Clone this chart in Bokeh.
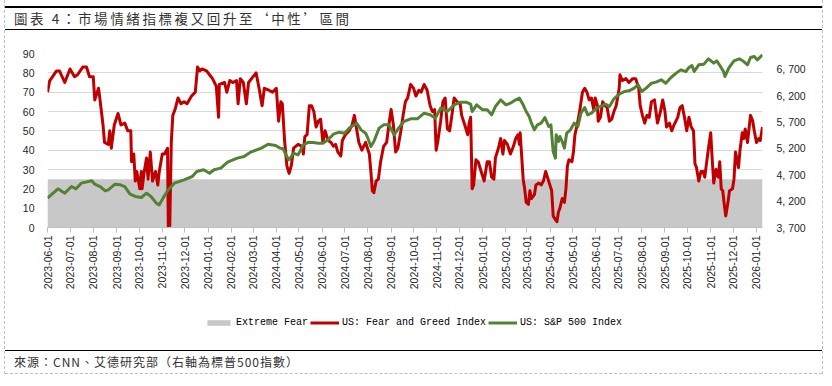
import math
import pandas as pd
from bokeh.plotting import figure
from bokeh.models import (Range1d, LinearAxis, FixedTicker, MonthsTicker,
                          DatetimeTickFormatter, Legend, LegendItem, Div)
from bokeh.layouts import column
from bokeh.embed import file_html
from bokeh.resources import INLINE

TITLE = "圖表 4：市場情緒指標複又回升至‘中性’區間"
SOURCE = "來源：CNN、艾德研究部（右軸為標普500指數）"
SERIES_NAMES = ["Extreme Fear", "US: Fear and Greed Index", "US: S&P 500 Index"]

EXTREME_FEAR = 25  # upper bound of the "Extreme Fear" band

fg_dates = [
    "2023-06-01", "2023-06-04", "2023-06-06", "2023-06-13", "2023-06-17", "2023-06-24",
    "2023-07-01", "2023-07-07", "2023-07-11", "2023-07-18", "2023-07-23", "2023-07-27",
    "2023-08-01", "2023-08-03", "2023-08-08", "2023-08-10", "2023-08-14", "2023-08-16",
    "2023-08-21", "2023-08-23", "2023-08-25", "2023-08-29", "2023-09-03", "2023-09-07",
    "2023-09-12", "2023-09-16", "2023-09-20", "2023-09-21", "2023-09-24", "2023-09-26",
    "2023-09-28", "2023-10-02", "2023-10-04", "2023-10-05", "2023-10-08", "2023-10-11",
    "2023-10-13", "2023-10-16", "2023-10-19", "2023-10-23", "2023-10-26", "2023-10-28",
    "2023-11-01", "2023-11-04", "2023-11-08", "2023-11-09", "2023-11-11", "2023-11-13",
    "2023-11-15", "2023-11-18", "2023-11-22", "2023-11-26", "2023-11-30", "2023-12-04",
    "2023-12-10", "2023-12-15", "2023-12-18", "2023-12-21", "2023-12-24", "2023-12-30",
    "2024-01-03", "2024-01-07", "2024-01-12", "2024-01-15", "2024-01-16", "2024-01-23",
    "2024-01-26", "2024-01-30", "2024-02-03", "2024-02-08", "2024-02-10", "2024-02-13",
    "2024-02-17", "2024-02-21", "2024-02-24", "2024-02-28", "2024-03-05", "2024-03-09",
    "2024-03-13", "2024-03-16", "2024-03-22", "2024-03-27", "2024-04-01", "2024-04-04",
    "2024-04-07", "2024-04-09", "2024-04-12", "2024-04-15", "2024-04-18", "2024-04-21",
    "2024-04-24", "2024-04-30", "2024-05-05", "2024-05-07", "2024-05-09", "2024-05-12",
    "2024-05-15", "2024-05-18", "2024-05-21", "2024-05-24", "2024-05-27", "2024-05-30",
    "2024-06-02", "2024-06-05", "2024-06-09", "2024-06-13", "2024-06-16", "2024-06-19",
    "2024-06-22", "2024-06-26", "2024-06-28", "2024-07-02", "2024-07-07", "2024-07-11",
    "2024-07-14", "2024-07-17", "2024-07-20", "2024-07-24", "2024-07-29", "2024-08-03",
    "2024-08-05", "2024-08-07", "2024-08-09", "2024-08-12", "2024-08-15", "2024-08-18",
    "2024-08-22", "2024-08-26", "2024-08-29", "2024-09-01", "2024-09-04", "2024-09-07",
    "2024-09-10", "2024-09-14", "2024-09-17", "2024-09-20", "2024-09-23", "2024-09-27",
    "2024-10-01", "2024-10-04", "2024-10-08", "2024-10-11", "2024-10-15", "2024-10-19",
    "2024-10-23", "2024-10-26", "2024-10-29", "2024-10-31", "2024-11-02", "2024-11-06",
    "2024-11-09", "2024-11-12", "2024-11-15", "2024-11-18", "2024-11-21", "2024-11-24",
    "2024-11-28", "2024-12-02", "2024-12-04", "2024-12-09", "2024-12-12", "2024-12-14",
    "2024-12-16", "2024-12-18", "2024-12-20", "2024-12-23", "2024-12-26", "2024-12-30",
    "2025-01-03", "2025-01-07", "2025-01-10", "2025-01-13", "2025-01-16", "2025-01-18",
    "2025-01-22", "2025-01-25", "2025-01-28", "2025-01-30", "2025-02-03", "2025-02-07",
    "2025-02-11", "2025-02-14", "2025-02-17", "2025-02-19", "2025-02-20", "2025-02-21",
    "2025-02-24", "2025-02-26", "2025-02-28", "2025-03-03", "2025-03-05", "2025-03-07",
    "2025-03-11", "2025-03-13", "2025-03-17", "2025-03-20", "2025-03-23", "2025-03-26",
    "2025-03-30", "2025-04-03", "2025-04-05", "2025-04-08", "2025-04-10", "2025-04-12",
    "2025-04-14", "2025-04-17", "2025-04-20", "2025-04-22", "2025-04-24", "2025-04-26",
    "2025-04-30", "2025-05-02", "2025-05-04", "2025-05-08", "2025-05-11", "2025-05-14",
    "2025-05-17", "2025-05-20", "2025-05-23", "2025-05-26", "2025-05-29", "2025-05-31",
    "2025-06-03", "2025-06-04", "2025-06-07", "2025-06-10", "2025-06-13", "2025-06-16",
    "2025-06-19", "2025-06-22", "2025-06-25", "2025-06-28", "2025-07-02", "2025-07-03",
    "2025-07-06", "2025-07-11", "2025-07-15", "2025-07-20", "2025-07-24", "2025-07-28",
    "2025-07-30", "2025-08-02", "2025-08-05", "2025-08-08", "2025-08-11", "2025-08-14",
    "2025-08-18", "2025-08-20", "2025-08-22", "2025-08-26", "2025-08-29", "2025-09-01",
    "2025-09-03", "2025-09-07", "2025-09-10", "2025-09-13", "2025-09-18", "2025-09-21",
    "2025-09-24", "2025-09-27", "2025-09-30", "2025-10-03", "2025-10-06", "2025-10-09",
    "2025-10-11", "2025-10-13", "2025-10-16", "2025-10-19", "2025-10-22", "2025-10-24",
    "2025-10-26", "2025-10-29", "2025-11-01", "2025-11-03", "2025-11-05", "2025-11-08",
    "2025-11-11", "2025-11-13", "2025-11-15", "2025-11-17", "2025-11-19", "2025-11-21",
    "2025-11-24", "2025-11-26", "2025-11-30", "2025-12-02", "2025-12-04", "2025-12-08",
    "2025-12-10", "2025-12-13", "2025-12-15", "2025-12-17", "2025-12-20", "2025-12-24",
    "2025-12-27", "2025-12-29", "2026-01-01", "2026-01-04", "2026-01-06", "2026-01-09",
]
fg_values = [
    70, 76, 77, 81, 81, 75,
    82, 78, 79, 83, 83, 78,
    78, 66, 72, 66, 53, 44,
    43, 50, 41, 53, 59, 53,
    54, 50, 50, 34, 38, 24,
    29, 20, 29, 20, 29, 36,
    25, 39, 24, 29, 22, 29,
    38, 38, 41, 0, 1, 44,
    58, 61, 67, 64, 65, 64,
    68, 70, 83, 81, 82, 81,
    79, 77, 73, 57, 74, 75,
    70, 76, 75, 76, 64, 77,
    75, 64, 75, 77, 80, 72,
    63, 72, 71, 70, 72, 55,
    65, 64, 45, 32, 28, 32,
    41, 43, 42, 38, 47, 48,
    63, 63, 60, 52, 55, 56,
    44, 50, 45, 44, 42, 43,
    39, 37, 45, 48, 50, 53,
    58, 51, 44, 40, 44, 38,
    29, 19, 18, 24, 25, 34,
    42, 44, 53, 61, 53, 39,
    41, 50, 58, 65, 67, 74,
    72, 68, 71, 70, 74, 71,
    63, 60, 61, 40, 44, 55,
    65, 67, 51, 50, 58, 67,
    65, 64, 58, 52, 48, 54,
    57, 20, 22, 35, 34, 29,
    24, 34, 34, 26, 25, 36,
    41, 46, 38, 45, 43, 38,
    42, 46, 48, 43, 49, 43,
    25, 20, 13, 12, 19, 15,
    17, 22, 23, 22, 24, 29,
    24, 19, 6, 4, 3, 8,
    10, 15, 13, 20, 32, 35,
    34, 39, 48, 55, 62, 70,
    72, 70, 66, 67, 61, 67,
    63, 55, 57, 65, 63, 62,
    55, 56, 60, 63, 72, 79,
    76, 77, 75, 77, 77, 72,
    63, 58, 54, 58, 57, 65,
    66, 60, 54, 60, 66, 60,
    52, 54, 50, 53, 57, 62,
    63, 57, 50, 57, 52, 50,
    33, 31, 24, 29, 29, 26,
    32, 41, 49, 35, 23, 30,
    26, 34, 20, 19, 12, 6,
    13, 19, 20, 25, 39, 31,
    40, 49, 46, 51, 44, 58,
    55, 50, 44, 46, 45, 52,
]

sp_dates = [
    "2023-06-01", "2023-06-15", "2023-06-24", "2023-07-03", "2023-07-09", "2023-07-16",
    "2023-07-30", "2023-08-03", "2023-08-10", "2023-08-17", "2023-08-21", "2023-08-30",
    "2023-09-06", "2023-09-12", "2023-09-19", "2023-09-26", "2023-10-04", "2023-10-11",
    "2023-10-17", "2023-10-24", "2023-10-28", "2023-11-02", "2023-11-08", "2023-11-17",
    "2023-11-30", "2023-12-11", "2023-12-17", "2023-12-26", "2024-01-03", "2024-01-09",
    "2024-01-18", "2024-01-27", "2024-02-09", "2024-02-18", "2024-02-27", "2024-03-12",
    "2024-03-21", "2024-03-31", "2024-04-06", "2024-04-10", "2024-04-15", "2024-04-18",
    "2024-04-24", "2024-04-30", "2024-05-07", "2024-05-14", "2024-05-20", "2024-05-27",
    "2024-06-02", "2024-06-09", "2024-06-16", "2024-06-24", "2024-07-01", "2024-07-07",
    "2024-07-14", "2024-07-17", "2024-07-23", "2024-07-29", "2024-08-01", "2024-08-05",
    "2024-08-09", "2024-08-16", "2024-08-22", "2024-08-29", "2024-09-05", "2024-09-11",
    "2024-09-18", "2024-09-27", "2024-10-06", "2024-10-15", "2024-10-23", "2024-10-30",
    "2024-11-06", "2024-11-15", "2024-11-23", "2024-12-02", "2024-12-10", "2024-12-16",
    "2024-12-18", "2024-12-24", "2025-01-01", "2025-01-07", "2025-01-13", "2025-01-18",
    "2025-01-25", "2025-02-01", "2025-02-07", "2025-02-14", "2025-02-19", "2025-02-24",
    "2025-02-28", "2025-03-04", "2025-03-07", "2025-03-11", "2025-03-15", "2025-03-20",
    "2025-03-25", "2025-03-30", "2025-04-02", "2025-04-05", "2025-04-08", "2025-04-09",
    "2025-04-12", "2025-04-14", "2025-04-17", "2025-04-20", "2025-04-23", "2025-04-28",
    "2025-05-03", "2025-05-08", "2025-05-12", "2025-05-17", "2025-05-21", "2025-05-26",
    "2025-06-02", "2025-06-07", "2025-06-14", "2025-06-19", "2025-06-25", "2025-07-02",
    "2025-07-09", "2025-07-15", "2025-07-22", "2025-07-27", "2025-08-01", "2025-08-07",
    "2025-08-14", "2025-08-20", "2025-08-27", "2025-09-02", "2025-09-09", "2025-09-16",
    "2025-09-22", "2025-09-29", "2025-10-03", "2025-10-07", "2025-10-10", "2025-10-16",
    "2025-10-23", "2025-10-29", "2025-11-05", "2025-11-09", "2025-11-14", "2025-11-18",
    "2025-11-20", "2025-11-25", "2025-12-02", "2025-12-09", "2025-12-15", "2025-12-20",
    "2025-12-24", "2025-12-29", "2026-01-02", "2026-01-09",
]
sp_values = [
    4257, 4433, 4351, 4477, 4433, 4541,
    4585, 4522, 4477, 4396, 4415, 4522,
    4510, 4477, 4332, 4288, 4269, 4351,
    4288, 4162, 4130, 4257, 4396, 4541,
    4604, 4667, 4763, 4795, 4730, 4795,
    4826, 4939, 5016, 5047, 5130, 5205,
    5280, 5255, 5205, 5192, 5047, 4983,
    5110, 5078, 5268, 5318, 5312, 5299,
    5299, 5363, 5470, 5508, 5489, 5584,
    5647, 5679, 5552, 5489, 5394, 5236,
    5331, 5584, 5647, 5647, 5458, 5584,
    5710, 5761, 5761, 5868, 5837, 5774,
    5963, 5900, 6014, 6077, 6077, 6039,
    5900, 6026, 5932, 5932, 5837, 5995,
    6121, 6026, 6058, 6121, 6153, 6026,
    5900, 5805, 5679, 5552, 5647, 5679,
    5786, 5616, 5647, 5141, 5015, 5458,
    5331, 5426, 5331, 5205, 5489, 5552,
    5679, 5616, 5868, 5976, 5837, 5868,
    5963, 5995, 6039, 5995, 6140, 6229,
    6279, 6292, 6343, 6406, 6279, 6343,
    6437, 6457, 6501, 6437, 6545, 6627,
    6690, 6659, 6735, 6773, 6659, 6785,
    6798, 6899, 6817, 6861, 6753, 6659,
    6564, 6722, 6861, 6899, 6848, 6785,
    6924, 6943, 6880, 6975,
]

left_ticks = [0, 10, 20, 30, 40, 50, 60, 70, 80, 90]
right_ticks = [3700, 4200, 4700, 5200, 5700, 6200, 6700]
right_labels = ["3, 700", "4, 200", "4, 700", "5, 200", "5, 700", "6, 200", "6, 700"]
LEFT_MIN, LEFT_MAX = 0, 90
RIGHT_MIN, RIGHT_MAX = 3700, 7000

fg_x = pd.to_datetime(fg_dates)
sp_x = pd.to_datetime(sp_dates)
band_top = [EXTREME_FEAR] * len(fg_x)
band_bottom = [LEFT_MIN] * len(fg_x)

RED = "#C00000"
GREEN = "#548235"
GREY_BAND = "#C8C8C8"
AX_FONT = "Liberation Sans"

W = 817

# ---------------- main chart ----------------
p = figure(width=W, height=270, x_axis_type="datetime",
           x_range=Range1d(fg_x[0], fg_x[-1]),
           y_range=Range1d(LEFT_MIN, LEFT_MAX),
           output_backend="svg", toolbar_location=None,
           min_border_left=42, min_border_right=60,
           min_border_top=23, min_border_bottom=73)
p.extra_y_ranges = {"sp": Range1d(RIGHT_MIN, RIGHT_MAX)}
p.outline_line_color = None
p.background_fill_color = "white"
p.border_fill_color = "white"

p.varea(x=fg_x, y1=band_bottom, y2=band_top, fill_color=GREY_BAND, fill_alpha=1.0)
p.line(fg_x, fg_values, line_color=RED, line_width=3, line_join="round")
p.line(sp_x, sp_values, line_color=GREEN, line_width=3, line_join="round",
       y_range_name="sp")

p.xgrid.grid_line_color = None
p.ygrid.grid_line_color = "#D9D9D9"
p.ygrid.grid_line_width = 1

ya = p.yaxis[0]
ya.ticker = FixedTicker(ticks=left_ticks)
ya.axis_line_color = None
ya.major_tick_line_color = None
ya.minor_tick_line_color = None
ya.major_label_standoff = 7
ya.major_label_text_font = AX_FONT
ya.major_label_text_font_size = "10.5px"
ya.major_label_text_color = "#262626"

ra = LinearAxis(y_range_name="sp", ticker=FixedTicker(ticks=right_ticks),
                major_label_overrides={t: l for t, l in zip(right_ticks, right_labels)})
ra.axis_line_color = None
ra.major_tick_line_color = None
ra.minor_tick_line_color = None
ra.major_label_standoff = 8
ra.major_label_text_font = AX_FONT
ra.major_label_text_font_size = "10.5px"
ra.major_label_text_color = "#262626"
p.add_layout(ra, "right")

xa = p.xaxis[0]
xa.ticker = MonthsTicker(months=list(range(12)))
fmt = "%Y-%m-%d"
xa.formatter = DatetimeTickFormatter(days=fmt, months=fmt, years=fmt, hours=fmt,
                                     minutes=fmt, seconds=fmt, milliseconds=fmt,
                                     microseconds=fmt, hourmin=fmt, minsec=fmt)
xa.major_label_orientation = math.pi / 2
xa.axis_line_color = "#BFBFBF"
xa.major_tick_line_color = "#BFBFBF"
xa.major_tick_out = 5
xa.major_tick_in = 0
xa.minor_tick_line_color = None
xa.major_label_standoff = 3
xa.major_label_text_font = AX_FONT
xa.major_label_text_font_size = "10.5px"
xa.major_label_text_color = "#262626"

# ---------------- legend strip (same series, hidden; only their legend is shown) ----
lg = figure(width=W, height=50, x_axis_type="datetime",
            x_range=Range1d(fg_x[0], fg_x[-1]), y_range=Range1d(LEFT_MIN, LEFT_MAX),
            output_backend="svg", toolbar_location=None,
            x_axis_location=None, y_axis_location=None,
            min_border_left=0, min_border_right=0, min_border_top=0, min_border_bottom=0)
lg.extra_y_ranges = {"sp": Range1d(RIGHT_MIN, RIGHT_MAX)}
lg.outline_line_color = None
lg.xgrid.grid_line_color = None
lg.ygrid.grid_line_color = None
r_band = lg.varea(x=fg_x, y1=band_bottom, y2=band_top, fill_color=GREY_BAND,
                  fill_alpha=1.0, visible=False)
r_fg = lg.line(fg_x, fg_values, line_color=RED, line_width=3, visible=False)
r_sp = lg.line(sp_x, sp_values, line_color=GREEN, line_width=3, y_range_name="sp",
               visible=False)

legend = Legend(items=[
    LegendItem(label=SERIES_NAMES[0], renderers=[r_band]),
    LegendItem(label=SERIES_NAMES[1], renderers=[r_fg]),
    LegendItem(label=SERIES_NAMES[2], renderers=[r_sp]),
], orientation="horizontal", location=(157, 22))
legend.border_line_color = None
legend.background_fill_alpha = 0
legend.inactive_fill_alpha = 0
legend.padding = 0
legend.margin = 0
legend.spacing = 2
legend.label_standoff = 3
legend.glyph_width = 29
legend.glyph_height = 7
legend.label_height = 12
legend.label_text_font = "Liberation Mono"
legend.label_text_font_size = "10px"
legend.label_text_color = "#000000"
legend.label_text_baseline = "middle"
lg.add_layout(legend)

# ---------------- title / footer ----------------
title_div = Div(
    text=('<div style="box-sizing:border-box;width:%dpx;height:24px;'
          'border-top:2px solid #000;border-bottom:1.5px solid #000;'
          'padding-left:9px;font-family:\'Noto Sans CJK TC\';font-size:13.5px;'
          'letter-spacing:2.6px;line-height:20px;color:#333;white-space:nowrap;">%s</div>')
         % (W, TITLE),
    width=W, height=24, margin=(6, 0, 0, 0))

footer_div = Div(
    text=('<div style="box-sizing:border-box;width:%dpx;height:24px;'
          'border-top:1.5px solid #000;border-bottom:1px dashed #BFBFBF;'
          'padding-left:9px;font-family:\'Noto Sans CJK TC\';font-size:12px;'
          'letter-spacing:1px;line-height:21px;color:#333;white-space:nowrap;">%s</div>')
         % (W, SOURCE),
    width=W, height=24, margin=(0, 0, 0, 0))

layout = column(title_div, p, lg, footer_div, spacing=0, margin=(0, 0, 0, 4),
                styles={"border-left": "1px dashed #C0C0C0",
                        "border-right": "1px dashed #C0C0C0"})

open("out.html", "w").write(file_html(layout, INLINE))
